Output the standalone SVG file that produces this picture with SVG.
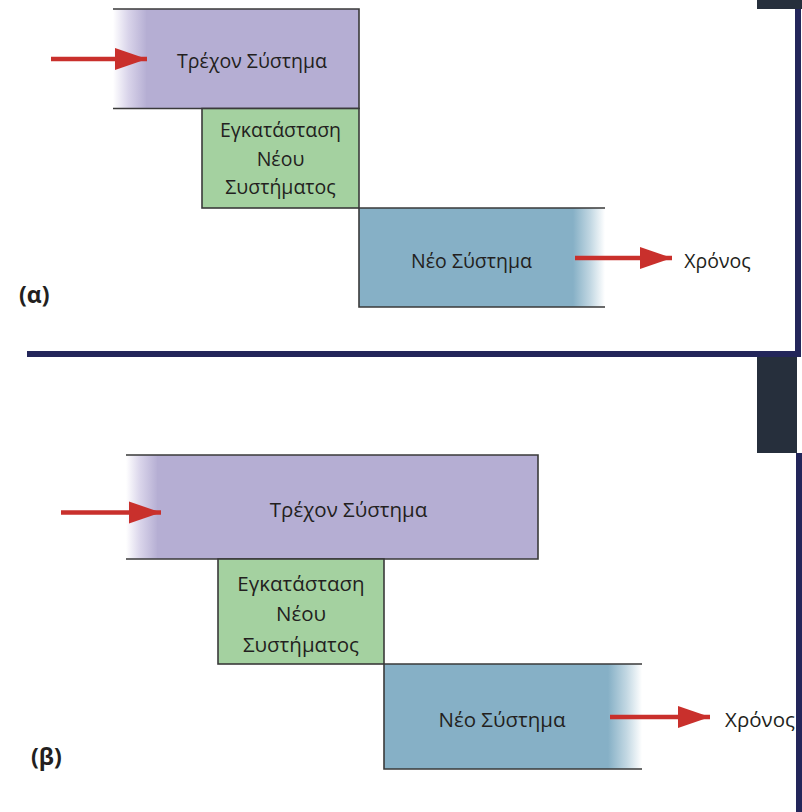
<svg xmlns="http://www.w3.org/2000/svg" width="802" height="812" viewBox="0 0 802 812">
<style>
.lbl{font-family:"Open Sans","Noto Sans","DejaVu Sans",sans-serif;fill:#231f20;text-anchor:middle}
.t1{font-size:19.5px}
.t2{font-size:20.5px}
.tag{font-family:"Open Sans","Noto Sans","DejaVu Sans",sans-serif;font-weight:bold;fill:#231f20;font-size:23px}
.edge{stroke:#3a3a3a;stroke-width:1.6;fill:none}
.arrow{stroke:#c9302c;stroke-width:4.5;fill:none}
.purple{fill:#b5aed3}
.green{fill:#a4d1a0}
.blue{fill:#86b0c6}
</style>
<defs>
<linearGradient id="fadeP" x1="0" y1="0" x2="1" y2="0">
<stop offset="0" stop-color="#ffffff"/>
<stop offset="0.45" stop-color="#d9d4ea"/>
<stop offset="1" stop-color="#b5aed3"/>
</linearGradient>
<linearGradient id="fadeB" x1="0" y1="0" x2="1" y2="0">
<stop offset="0" stop-color="#86b0c6"/>
<stop offset="0.55" stop-color="#c3d8e3"/>
<stop offset="1" stop-color="#ffffff"/>
</linearGradient>
<marker id="head" markerUnits="userSpaceOnUse" markerWidth="32" markerHeight="24" refX="32" refY="12" orient="auto" viewBox="0 0 32 24">
<path d="M0,1 L32,12 L0,23 Z" fill="#c9302c"/>
</marker>
</defs>
<rect x="0" y="0" width="802" height="812" fill="#ffffff"/>

<!-- frame decorations -->
<g id="frame">
<rect x="757" y="0" width="45" height="9" fill="#262f3c"/>
<rect x="795" y="9" width="6" height="348" fill="#23265a"/>
<rect x="27" y="351" width="774" height="6" fill="#23265a"/>
<rect x="757" y="357" width="40" height="96" fill="#262f3c"/>
</g>

<!-- Panel (a) -->
<g id="a-current">
<rect x="113" y="9" width="34" height="100" fill="url(#fadeP)"/>
<rect x="146" y="9" width="213" height="100" class="purple"/>
<path class="edge" d="M113,9 H359 V108.5 H113"/>
<text class="lbl t1" x="252" y="68">Τρέχον Σύστημα</text>
</g>
<g id="a-install">
<rect x="202" y="108.5" width="157" height="99.5" class="green"/>
<rect x="202" y="108.5" width="157" height="99.5" class="edge"/>
<text class="lbl t1" x="280.5" y="137">Εγκατάσταση</text>
<text class="lbl t1" x="280.5" y="166">Νέου</text>
<text class="lbl t1" x="280.5" y="194">Συστήματος</text>
</g>
<g id="a-new">
<rect x="359" y="208" width="215" height="99" class="blue"/>
<rect x="573" y="208" width="32" height="99" fill="url(#fadeB)"/>
<path class="edge" d="M605,208 H359 V307 H605"/>
<text class="lbl t1" x="471.5" y="268">Νέο Σύστημα</text>
</g>
<text id="a-time" class="lbl t1" x="717.5" y="268">Χρόνος</text>
<text id="a-tag" class="tag" x="19" y="303">(α)</text>

<!-- Panel (b) -->
<g id="b-current">
<rect x="126" y="455" width="32" height="104" fill="url(#fadeP)"/>
<rect x="157" y="455" width="381" height="104" class="purple"/>
<path class="edge" d="M126,455 H538 V559 H126"/>
<text class="lbl t2" x="348.5" y="517">Τρέχον Σύστημα</text>
</g>
<g id="b-install">
<rect x="218" y="559" width="166" height="105" class="green"/>
<rect x="218" y="559" width="166" height="105" class="edge"/>
<text class="lbl t2" x="301" y="591">Εγκατάσταση</text>
<text class="lbl t2" x="301" y="621">Νέου</text>
<text class="lbl t2" x="301" y="652">Συστήματος</text>
</g>
<g id="b-new">
<rect x="384" y="664" width="225" height="105" class="blue"/>
<rect x="608" y="664" width="34" height="105" fill="url(#fadeB)"/>
<path class="edge" d="M642,664 H384 V769 H642"/>
<text class="lbl t2" x="502" y="727">Νέο Σύστημα</text>
</g>
<text id="b-time" class="lbl t2" x="760" y="727">Χρόνος</text>
<text id="b-tag" class="tag" x="31" y="765">(β)</text>

<!-- connectors -->
<g id="connectors">
<line class="arrow" x1="51" y1="59" x2="147" y2="59" marker-end="url(#head)"/>
<line class="arrow" x1="575" y1="258" x2="672" y2="258" marker-end="url(#head)"/>
<line class="arrow" x1="61" y1="512.5" x2="161" y2="512.5" marker-end="url(#head)"/>
<line class="arrow" x1="610" y1="717" x2="710" y2="717" marker-end="url(#head)"/>
</g>
<rect id="b-frame" x="796" y="453" width="6" height="359" fill="#23265a"/>
</svg>
